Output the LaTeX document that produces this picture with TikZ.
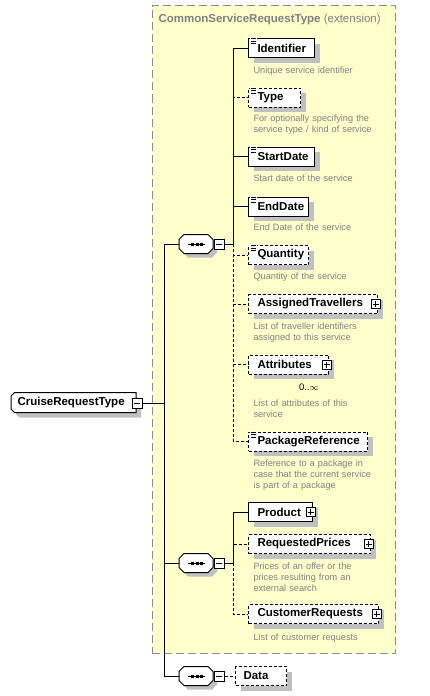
\documentclass[tikz,border=0pt]{standalone}
\usepackage{fontspec}
\setmainfont{Liberation Sans}
\usetikzlibrary{shadows}
\definecolor{extfill}{HTML}{FFFFCC}
\definecolor{extline}{HTML}{8C8C8C}
\definecolor{shdc}{HTML}{C0C0C0}
\definecolor{dsc}{HTML}{808080}
\newcommand{\simpicon}[1]{%
  \fill[white] ([shift={(2,-1)}]#1.north west) rectangle ++(7,7);
  \foreach \d in {0.5,3,5.5} \draw[line width=0.9pt] ([shift={(3,\d)}]#1.north west) -- ++(5,0);}
\newcommand{\octpath}[3]{% node, dx, dy
  ([shift={(-12+#2,-9.5+#3)}]#1.center) -- ([shift={(12+#2,-9.5+#3)}]#1.center)
  -- ([shift={(17+#2,-4.5+#3)}]#1.center) -- ([shift={(17+#2,4.5+#3)}]#1.center)
  -- ([shift={(12+#2,9.5+#3)}]#1.center) -- ([shift={(-12+#2,9.5+#3)}]#1.center)
  -- ([shift={(-17+#2,4.5+#3)}]#1.center) -- ([shift={(-17+#2,-4.5+#3)}]#1.center) -- cycle}
\newcommand{\compshape}[1]{%
  \fill[shdc] \octpath{#1}{4}{4};
  \draw[fill=white] \octpath{#1}{0}{0};
  \draw ([xshift=-8.5pt]#1.center) -- ([xshift=8.5pt]#1.center);
  \foreach \dx in {-5,-0.5,4} \fill ([shift={(\dx,-1.5)}]#1.center) rectangle ++(3,3);}
\newcommand{\rootpath}[3]{% node, dx, dy : chamfer 3.5 on left corners
  ([shift={(3.5+#2,#3)}]#1.north west) -- ([shift={(#2,#3)}]#1.north east)
  -- ([shift={(#2,#3)}]#1.south east) -- ([shift={(3.5+#2,#3)}]#1.south west)
  -- ([shift={(#2,-3.5+#3)}]#1.south west) -- ([shift={(#2,3.5+#3)}]#1.north west) -- cycle}
\begin{document}
\begin{tikzpicture}[x=1pt,y=-1pt,line width=1pt,
  shd/.style={general shadow={fill=shdc, shadow xshift=5pt, shadow yshift=-5pt}},
  elem/.style={draw, fill=white, shd, minimum height=19pt, inner ysep=0pt, inner xsep=9pt,
    anchor=west, align=left, text width=#1, font=\fontsize{11.5}{13}\selectfont\bfseries},
  optl/.style={dash pattern=on 3pt off 2pt},
  desc/.style={anchor=base west, inner sep=0pt, text width=150pt, align=left, text=dsc,
    font=\fontsize{9.2}{11}\selectfont},
  comp/.style={minimum width=34pt, minimum height=19pt, inner sep=0pt},
  minusbox/.style={draw, fill=white, minimum size=10pt, inner sep=0pt,
    path picture={\draw[line width=1pt] ([xshift=2pt]path picture bounding box.west) -- ([xshift=-2pt]path picture bounding box.east);}},
  plusbox/.style={draw, fill=white, minimum size=9pt, inner sep=0pt,
    path picture={\draw[line width=1pt] ([xshift=1.5pt]path picture bounding box.west) -- ([xshift=-1.5pt]path picture bounding box.east)
      ([yshift=-1.5pt]path picture bounding box.north) -- ([yshift=1.5pt]path picture bounding box.south);}},
]
\useasboundingbox (0,0) rectangle (429,696);
% extension container
\node[draw=extline, fill=extfill, dash pattern=on 8pt off 4pt, minimum width=243.5pt, minimum height=648pt,
  anchor=north west, inner sep=0pt] (ext) at (151.5,5) {};
\node[anchor=base west, inner sep=0pt, text=dsc, font=\fontsize{11.5}{13}\selectfont] (title) at (158,22)
  {\textbf{CommonServiceRequestType} (extension)};

% root
\node[minimum width=124pt, minimum height=19pt, inner xsep=6pt, inner ysep=0pt,
  text width=112pt, align=left, anchor=west] (cruise) at (11,402.5) {};
\fill[shdc] \rootpath{cruise}{5}{5};
\draw[fill=white] \rootpath{cruise}{0}{0};
\node[inner sep=0pt, anchor=west, font=\fontsize{11.5}{13}\selectfont\bfseries] (cruise-t) at ([xshift=6pt]cruise.west) {CruiseRequestType};
\node[minusbox] (cm) at (137,403) {};

% compositors
\node[comp] (c1) at (196,244) {};
\node[comp] (c2) at (196,563) {};
\node[comp] (c3) at (196,676) {};
\compshape{c1}\compshape{c2}\compshape{c3}
\node[minusbox] (m1) at (219,244) {};
\node[minusbox] (m2) at (219,563) {};
\node[minusbox] (m3) at (219,676) {};

\coordinate (jm) at (164,403);
\coordinate (j1) at (233,244);
\coordinate (j2) at (233,563);

% elements of first sequence
\node[elem=48pt] (identifier) at (248,48) {Identifier};
\node[elem=34pt, optl] (type) at (248,97.5) {Type};
\node[elem=48pt] (startdate) at (248,156.5) {StartDate};
\node[elem=42pt] (enddate) at (248,206.5) {EndDate};
\node[elem=42pt, optl] (quantity) at (248,255) {Quantity};
\node[elem=111pt, optl] (assigned) at (248,304) {AssignedTravellers};
\node[elem=62pt, optl] (attributes) at (248,364.5) {Attributes};
\node[elem=101pt, optl] (package) at (248,441.5) {PackageReference};
% second sequence
\node[elem=46pt] (product) at (248,512) {Product};
\node[elem=104pt, optl] (prices) at (248,544) {RequestedPrices};
\node[elem=112pt, optl] (customer) at (248,614) {CustomerRequests};
% data
\node[elem=35pt, optl, inner xsep=8pt] (data) at (235,676) {Data};

\simpicon{identifier}\simpicon{type}\simpicon{startdate}\simpicon{enddate}\simpicon{quantity}\simpicon{package}

\node[plusbox] (assigned-p) at ([xshift=-2.5pt]assigned.east) {};
\node[plusbox] (attributes-p) at ([xshift=-2.5pt]attributes.east) {};
\node[plusbox] (product-p) at ([xshift=-2.5pt]product.east) {};
\node[plusbox] (prices-p) at ([xshift=-2.5pt]prices.east) {};
\node[plusbox] (customer-p) at ([xshift=-2.5pt]customer.east) {};
\node[inner sep=0pt, font=\fontsize{9.5}{11}\selectfont] (attr-occ) at (309,387) {0..$\infty$};

% descriptions
\node[desc] (identifier-d) at (253,73.3) {Unique service identifier};
\node[desc] (type-d) at (253,121.3) {For optionally specifying the\\service type / kind of service};
\node[desc] (startdate-d) at (253,181.3) {Start date of the service};
\node[desc] (enddate-d) at (253,230.3) {End Date of the service};
\node[desc] (quantity-d) at (253,279.3) {Quantity of the service};
\node[desc] (assigned-d) at (253,329.3) {List of traveller identifiers\\assigned to this service};
\node[desc] (attributes-d) at (253,406.3) {List of attributes of this\\service};
\node[desc] (package-d) at (253,466.3) {Reference to a package in\\case that the current service\\is part of a package};
\node[desc] (prices-d) at (253,569.3) {Prices of an offer or the\\prices resulting from an\\external search};
\node[desc] (customer-d) at (253,640.3) {List of customer requests};

% connectors
\draw (cm.east) -- (jm);
\draw (jm) |- (c1.west);
\draw (jm) |- (c2.west);
\draw (jm) |- (c3.west);
\draw (m1.east) -- (j1);
\draw (m2.east) -- (j2);
\draw (j1) |- (identifier.west);
\draw (j1) |- (startdate.west);
\draw (j1) |- (enddate.west);
\draw[optl] (j1) |- (type.west);
\draw[optl] (j1) |- (quantity.west);
\draw[optl] (j1) |- (assigned.west);
\draw[optl] (j1) |- (attributes.west);
\draw[optl] (j1) |- (package.west);
\draw (j2) |- (product.west);
\draw[optl] (j2) |- (prices.west);
\draw[optl] (j2) |- (customer.west);
\draw[optl] (m3.east) -- (data.west);
\end{tikzpicture}
\end{document}
